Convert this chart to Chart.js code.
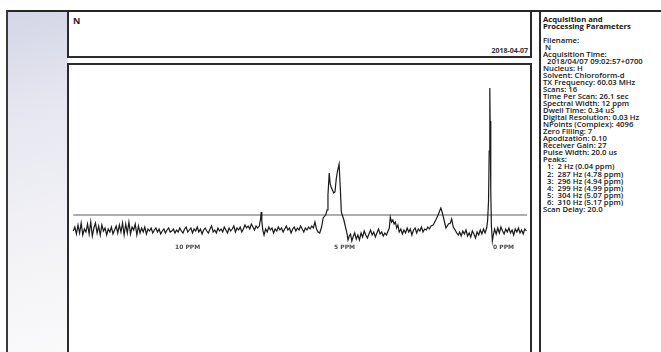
<!DOCTYPE html>
<html>
<head>
<meta charset="utf-8">
<script src="https://cdn.jsdelivr.net/npm/chart.js@4.4.0/dist/chart.umd.min.js"></script>
<style>
  html, body { margin: 0; padding: 0; background: #fff; }
  #page { position: relative; width: 661px; height: 352px; overflow: hidden; background: #fff; font-family: "Open Sans", "DejaVu Sans", sans-serif; color: #1e1e1e; }
  .abs { position: absolute; box-sizing: border-box; }
  #shade { left: 7px; top: 11px; width: 61px; height: 341px; background: linear-gradient(165deg, #d4d5e6 0%, #e6e7f0 30%, #f2f2f6 65%, #fafafb 100%); }
  #ruleTop { left: 6px; top: 10px; width: 655px; height: 2px; background: #262626; }
  #ruleLeft { left: 6px; top: 10px; width: 1.5px; height: 342px; background: #3a3a3a; }
  #rulePanel { left: 539px; top: 10px; width: 2px; height: 342px; background: #2a2a2a; }
  #header { left: 67px; top: 10px; width: 465px; height: 48px; border: 2px solid #2b2b2b; border-top: none; background: #fff; }
  #plotBox { left: 67px; top: 63px; width: 465px; height: 310px; border: 2px solid #2b2b2b; z-index: 2; }
  #nmr { position: absolute; left: 68px; top: 64px; z-index: 1; }
  #sample { left: 73px; top: 15px; font-size: 9px; font-weight: 700; line-height: 12px; }
  #date { right: 133px; top: 46px; font-size: 7px; font-weight: 700; line-height: 10px; color: #333; }
  #params { left: 543px; top: 15.5px; font-size: 7.7px; font-weight: 600; line-height: 7.05px; white-space: pre; color: #161616; }
  #params .t { font-weight: 700; }
</style>
</head>
<body>
<div id="page">
  <div id="shade" class="abs"></div>
  <div id="header" class="abs"></div>
  <div id="ruleTop" class="abs"></div>
  <div id="ruleLeft" class="abs"></div>
  <div id="rulePanel" class="abs"></div>
  <div id="sample" class="abs"></div>
  <div id="date" class="abs"></div>
  <canvas id="nmr" width="463" height="300"></canvas>
  <div id="plotBox" class="abs"></div>
  <div id="params" class="abs"></div>
</div>
<script>
// chemical shift (ppm) and intensity
const shifts = [
  // noise 13.2 - 7.4
  13.20, 13.15, 13.10, 13.05, 13.00, 12.95, 12.90, 12.85, 12.80, 12.75,
  12.70, 12.65, 12.60, 12.55, 12.50, 12.45, 12.40, 12.35, 12.30, 12.25,
  12.20, 12.15, 12.10, 12.05, 12.00, 11.95, 11.90, 11.85, 11.80, 11.75,
  11.70, 11.65, 11.60, 11.55, 11.50, 11.45, 11.40, 11.35, 11.30, 11.25,
  11.20, 11.15, 11.10, 11.05, 11.00, 10.95, 10.90, 10.85, 10.80, 10.75,
  10.70, 10.65, 10.60, 10.55, 10.50, 10.45, 10.40, 10.35, 10.30, 10.25,
  10.20, 10.15, 10.10, 10.05, 10.00, 9.95, 9.90, 9.85, 9.80, 9.75,
  9.70, 9.65, 9.60, 9.55, 9.50, 9.45, 9.40, 9.35, 9.30, 9.25,
  9.20, 9.15, 9.10, 9.05, 9.00, 8.95, 8.90, 8.85, 8.80, 8.75,
  8.70, 8.65, 8.60, 8.55, 8.50, 8.45, 8.40, 8.35, 8.30, 8.25,
  8.20, 8.15, 8.10, 8.05, 8.00, 7.95, 7.90, 7.85, 7.80, 7.75,
  7.70, 7.65, 7.60, 7.55, 7.50, 7.45, 7.40,
  // CHCl3
  7.35, 7.31, 7.29, 7.27, 7.24, 7.20,
  // noise 7.15 - 5.45
  7.15, 7.10, 7.05, 7.00, 6.95, 6.90, 6.85, 6.80, 6.75, 6.70,
  6.65, 6.60, 6.55, 6.50, 6.45, 6.40, 6.35, 6.30, 6.25, 6.20,
  6.15, 6.10, 6.05, 6.00, 5.95, 5.90, 5.85, 5.80, 5.75, 5.70,
  5.65, 5.60, 5.55, 5.50, 5.45,
  // double peak ~5 ppm
  5.39, 5.34, 5.29, 5.25, 5.22, 5.19, 5.15, 5.12, 5.09, 5.05,
  5.01, 4.97, 4.93, 4.89, 4.84, 4.80, 4.77, 4.73, 4.69, 4.64,
  4.60, 4.56, 4.52, 4.48, 4.44, 4.40,
  // noise 4.35 - 3.3
  4.35, 4.30, 4.25, 4.20, 4.15, 4.10, 4.05, 4.00, 3.95, 3.90,
  3.85, 3.80, 3.75, 3.70, 3.65, 3.60, 3.55, 3.50, 3.45, 3.40,
  3.35, 3.30,
  // bump ~3.2
  3.26, 3.23, 3.19, 3.15, 3.11, 3.07, 3.03, 2.99, 2.95,
  // noise 2.9 - 1.95
  2.90, 2.85, 2.80, 2.75, 2.70, 2.65, 2.60, 2.55, 2.50, 2.45,
  2.40, 2.35, 2.30, 2.25, 2.20, 2.15, 2.10, 2.05, 2.00, 1.95,
  // peak ~1.6
  1.88, 1.80, 1.74, 1.69, 1.64, 1.59, 1.54, 1.48, 1.44, 1.40,
  1.34, 1.30, 1.25, 1.19, 1.14, 1.09,
  // noise 1.05 - 0.2
  1.05, 1.00, 0.95, 0.90, 0.85, 0.80, 0.75, 0.70, 0.65, 0.60,
  0.55, 0.50, 0.45, 0.40, 0.35, 0.30, 0.25, 0.20,
  // TMS
  0.17, 0.14, 0.12, 0.10, 0.09, 0.07, 0.05, 0.02, -0.01,
  // noise below 0
  -0.05, -0.10, -0.15, -0.20, -0.25, -0.30, -0.35, -0.40, -0.45, -0.50,
  -0.55, -0.60, -0.65, -0.70, -0.75, -0.80, -0.85, -0.90, -0.95, -1.00,
  -1.05
];

const signal = [
  0, 4, -3, 6, -2, 8, -4, 2, -1, 7,
  -3, 9, -5, 3, 8, -2, 5, -4, 6, 0,
  3, -4, 2, -1, 4, -3, 1, 5, -2, 6,
  -1, 8, -4, 7, -2, 9, -3, 4, 1, 7,
  -4, 5, -2, 3, -1, 4, -3, 2, 0, 3,
  -2, 1, 3, -1, 2, -3, 0, 2, -2, 1,
  3, -1, 0, 2, -2, 1, -1, 3, 0, -2,
  2, 4, -1, 1, 3, -2, 2, 0, 4, -1,
  2, -3, 1, 3, 0, -2, 2, 5, -1, 1,
  -2, 3, 0, 2, -1, 4, 1, -2, 3, 0,
  2, 5, -1, 3, 1, 4, -1, 2, 6, 3,
  5, 2, 7, 4, 1, 5, 3,

  5, 12, 19, 10, 1, -4,

  2, -1, 4, 1, 3, -2, 2, 0, 4, 1,
  3, -1, 2, 5, 1, 3, -2, 2, 4, 0,
  3, 1, 5, 2, -1, 3, 1, 4, 2, 5,
  3, 9, 2, -1, -2,

  4, 13, 15, 17, 21, 36, 58, 47, 44, 41,
  38, 39, 52, 60, 67, 42, 19, 15, 11, 4,
  -1, -9, -5, -3, -10, -6,

  -2, -8, -4, -9, -2, -6, 0, -4, -7, -3,
  1, -4, -1, -6, -2, 2, -3, -1, -5, -2,
  -4, 0,

  3, 14, 9, 11, 7, 9, 3, 6, -1,

  2, -3, 1, -2, 3, -1, 2, -4, 1, 3,
  -2, 2, 0, 4, -1, 2, 1, 4, 2, 5,

  6, 11, 15, 19, 23, 18, 11, 3, 5, 7,
  8, 12, 4, 1, -2, -4,

  -1, -5, 0, -3, 1, -5, -2, -6, 0, -3,
  -7, -1, -4, 1, -3, 2, -2, 3,

  10, 30, 80, 143, 110, 40, 5, -10, -4,

  2, -3, 3, -2, 4, 0, -3, 2, -1, 3,
  -2, 1, -4, 2, -1, 3, -2, 1, -3, 2,
  0
];

const axisTicks = [10, 5, 0];
const levelShifts = [13.2, -1.07];
const levelValues = [16, 16];

const sampleName = 'N';
const runDate = '2018-04-07';
const paramTitle = ['Acquisition and', 'Processing Parameters'];
const paramLines = [
  '',
  'Filename:',
  ' N',
  'Acquisition Time:',
  '  2018/04/07 09:02:57+0700',
  'Nucleus: H',
  'Solvent: Chloroform-d',
  'TX Frequency: 60.03 MHz',
  'Scans: 16',
  'Time Per Scan: 26.1 sec',
  'Spectral Width: 12 ppm',
  'Dwell Time: 0.34 uS',
  'Digital Resolution: 0.03 Hz',
  'NPoints (Complex): 4096',
  'Zero Filling: 7',
  'Apodization: 0.10',
  'Receiver Gain: 27',
  'Pulse Width: 20.0 us',
  'Peaks:',
  '  1:  2 Hz (0.04 ppm)',
  '  2:  287 Hz (4.78 ppm)',
  '  3:  296 Hz (4.94 ppm)',
  '  4:  299 Hz (4.99 ppm)',
  '  5:  304 Hz (5.07 ppm)',
  '  6:  310 Hz (5.17 ppm)',
  'Scan Delay: 20.0'
];

// texts
document.getElementById('sample').textContent = sampleName;
document.getElementById('date').textContent = runDate;
const params = document.getElementById('params');
paramTitle.forEach(t => {
  const s = document.createElement('span');
  s.className = 't';
  s.textContent = t + '\n';
  params.appendChild(s);
});
params.appendChild(document.createTextNode(paramLines.join('\n')));

// spectrum
const ctx = document.getElementById('nmr');
new Chart(ctx, {
  type: 'line',
  data: {
    datasets: [{
      label: 'spectrum',
      data: shifts.map((s, i) => ({ x: s, y: signal[i] })),
      borderColor: '#1a1a1a',
      borderWidth: 1.2,
      pointRadius: 0,
      tension: 0,
      fill: false
    }, {
      label: 'level',
      data: levelShifts.map((s, i) => ({ x: s, y: levelValues[i] })),
      borderColor: '#5d615a',
      borderWidth: 1,
      pointRadius: 0,
      fill: false
    }]
  },
  options: {
    responsive: false,
    animation: false,
    devicePixelRatio: 1,
    layout: { padding: 0 },
    plugins: { legend: { display: false }, tooltip: { enabled: false } },
    scales: {
      x: {
        type: 'linear',
        reverse: true,
        min: -1.195,
        max: 13.365,
        position: { y: -10 },
        afterFit: s => { s.height = 0; },
        afterBuildTicks: s => { s.ticks = axisTicks.map(v => ({ value: v })); },
        grid: { display: false, drawTicks: false },
        border: { display: false },
        ticks: {
          align: 'start',
          maxRotation: 0,
          autoSkip: false,
          padding: 3,
          color: '#4a4a4a',
          font: { family: 'DejaVu Sans', size: 6, weight: 'bold' },
          callback: v => v + ' PPM'
        }
      },
      y: {
        display: false,
        min: -133,
        max: 167
      }
    }
  }
});
</script>
</body>
</html>
